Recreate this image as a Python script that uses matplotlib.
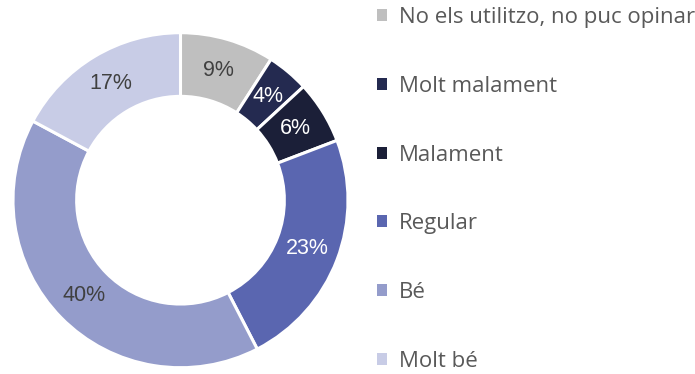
import matplotlib
matplotlib.use("Agg")
import matplotlib.pyplot as plt
from matplotlib.patches import Patch

labels = ["No els utilitzo, no puc opinar", "Molt malament", "Malament",
          "Regular", "Bé", "Molt bé"]
values = [9, 4, 6, 23, 40, 17]
colors = ["#BFBFBF", "#242A50", "#1B1F38", "#5A66B0", "#949CCB", "#C8CCE6"]
pct_colors = ["#404040", "white", "white", "white", "#404040", "#404040"]

plt.rcParams["font.family"] = ["Open Sans", "DejaVu Sans"]

fig = plt.figure(figsize=(6.95, 3.74), dpi=100)
R = 167.5
cx, cy = 180.5, 374 - 200.2
ax = fig.add_axes([(cx - R) / 695, (cy - R) / 374, 2 * R / 695, 2 * R / 374])

wedges, _, autotexts = ax.pie(
    values, colors=colors, startangle=90, counterclock=False,
    autopct=lambda p: f"{p * sum(values) / 100:.0f}%", pctdistance=0.81,
    wedgeprops=dict(width=0.38, edgecolor="white", linewidth=2.2),
    textprops=dict(fontsize=15.5, family=["Liberation Sans", "DejaVu Sans"]),
)
for t, c in zip(autotexts, pct_colors):
    t.set_color(c)
ax.set_xlim(-1, 1)
ax.set_ylim(-1, 1)
ax.set_aspect("equal")
ax.axis("off")

handles = [Patch(facecolor=c, edgecolor="none") for c in colors]
leg = fig.legend(handles, labels, loc="upper left", bbox_to_anchor=(377 / 695, 1 - 7 / 374),
                 frameon=False, fontsize=16, labelcolor="#595959",
                 handlelength=0.45, handleheight=0.45, handletextpad=0.55,
                 labelspacing=2.15, borderaxespad=0.0, borderpad=0.0)

fig.savefig("out.png", dpi=100)
